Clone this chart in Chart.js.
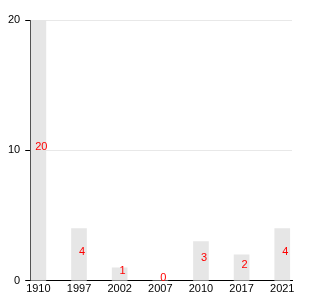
<!DOCTYPE html>
<html>
<head>
<meta charset="utf-8">
<script src="https://cdn.jsdelivr.net/npm/chart.js@4"></script>
<style>
  html, body { margin: 0; padding: 0; background: #fff; }
</style>
</head>
<body>
<canvas id="chart" width="330" height="300"></canvas>
<script>
// chart data
const years = ['1910', '1997', '2002', '2007', '2010', '2017', '2021'];
const counts = [20, 4, 1, 0, 3, 2, 4];

// red value labels near the middle of each bar
const valueLabels = {
    id: 'valueLabels',
    afterDatasetsDraw(chart) {
        const ctx = chart.ctx;
        const meta = chart.getDatasetMeta(0);
        ctx.save();
        ctx.fillStyle = '#ff0000';
        ctx.font = '11px "Liberation Sans", Arial, sans-serif';
        ctx.textAlign = 'center';
        ctx.textBaseline = 'middle';
        meta.data.forEach((bar, i) => {
            let y = (bar.y + bar.base) / 2 - 3;
            if (counts[i] === 0) y = bar.base - 3;
            ctx.fillText(String(counts[i]), bar.x + 3, y);
        });
        ctx.restore();
    }
};

const ctx = document.getElementById('chart').getContext('2d');
new Chart(ctx, {
    type: 'bar',
    data: {
        datasets: [{
            data: counts.map((v, i) => ({ x: i, y: v })),
            backgroundColor: '#e6e6e6',
            barThickness: 15
        }]
    },
    options: {
        responsive: false,
        animation: false,
        layout: { padding: { top: 20, right: 38, left: 3, bottom: 2 } },
        plugins: {
            legend: { display: false },
            tooltip: { enabled: false }
        },
        scales: {
            x: {
                type: 'linear',
                min: -0.2,
                max: 6.24,
                offset: false,
                afterBuildTicks(axis) {
                    axis.ticks = years.map((y, i) => ({ value: i }));
                },
                ticks: {
                    autoSkip: false,
                    maxRotation: 0,
                    color: '#000',
                    padding: 2,
                    font: { family: '"Liberation Sans", Arial, sans-serif', size: 11 },
                    callback: (v) => years[v]
                },
                grid: { display: false, drawTicks: false },
                border: { color: '#000', width: 1 }
            },
            y: {
                min: 0,
                max: 20,
                ticks: {
                    stepSize: 10,
                    color: '#000',
                    padding: 5,
                    font: { family: '"Liberation Sans", Arial, sans-serif', size: 11 }
                },
                grid: {
                    color: (c) => c.tick && c.tick.value === 0 ? 'rgba(0,0,0,0)' : '#e8e8e8',
                    tickColor: '#000',
                    tickLength: 5
                },
                border: { color: '#000', width: 1 }
            }
        }
    },
    plugins: [valueLabels]
});
</script>
</body>
</html>
